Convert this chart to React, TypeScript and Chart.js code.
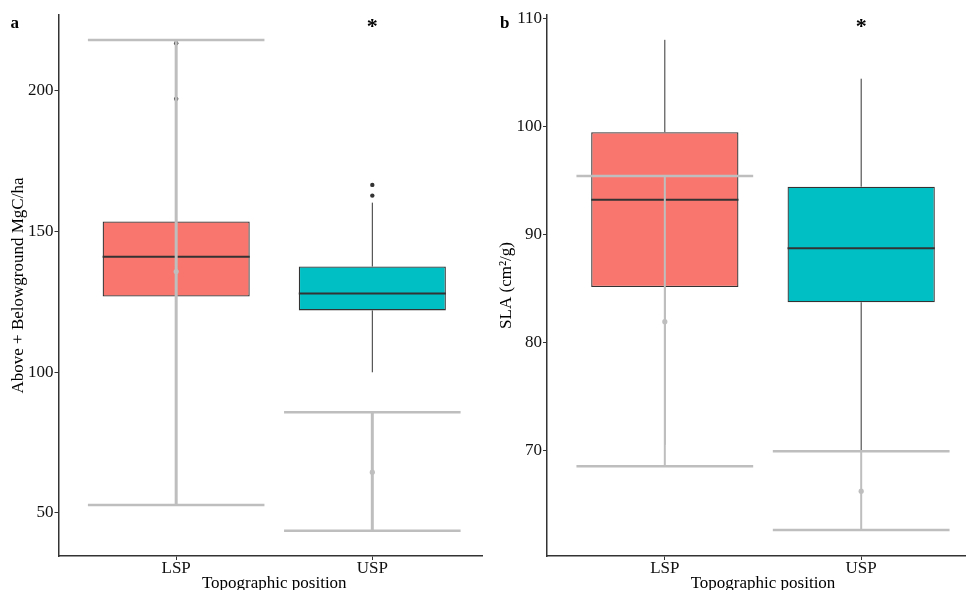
import React, { useEffect, useRef } from "react";
import { Chart, registerables } from "chart.js";

Chart.register(...registerables);

// ---------- data ----------
const categories = ["LSP", "USP"];
const xAxisTitle = "Topographic position";
const significance = ["", "*"];

// Panel a: Above + Belowground carbon
const carbonQ1 = [126.9, 122.0];
const carbonMedian = [141.1, 128.0];
const carbonQ3 = [153.6, 137.6];
const carbonWhiskerLow = [95.0, 100.0];
const carbonWhiskerHigh = [185.0, 160.3];
const carbonOutliers = [[217.0, 197.2], [166.6, 162.8]];
const carbonMean = [135.8, 64.5];
const carbonErrLow = [52.8, 43.7];
const carbonErrHigh = [218.1, 85.8];
const carbonTicks = [50, 100, 150, 200];
const carbonRange = [34.7, 227.0];

// Panel b: SLA
const slaQ1 = [85.1, 83.7];
const slaMedian = [93.2, 88.7];
const slaQ3 = [99.45, 94.4];
const slaWhiskerLow = [70.5, 70.0];
const slaWhiskerHigh = [108.0, 104.4];
const slaOutliers: number[][] = [[], []];
const slaMean = [81.9, 66.2];
const slaErrLow = [68.5, 62.6];
const slaErrHigh = [95.4, 69.9];
const slaTicks = [70, 80, 90, 100, 110];
const slaRange = [60.2, 110.3];

const boxColors = ["#F8766D", "#00BFC4"];
const FONT = "'Liberation Serif', 'Times New Roman', serif";

type Panel = {
  tag: string;
  yTitle: string;
  q1: number[];
  median: number[];
  q3: number[];
  wLow: number[];
  wHigh: number[];
  outliers: number[][];
  mean: number[];
  errLow: number[];
  errHigh: number[];
  ticks: number[];
  range: number[];
  axisWidth: number;
  yTitlePad: number;
  tagX: number;
  errStemWidth: number;
  errCapWidth: number;
};

const panelA: Panel = {
  tag: "a",
  yTitle: "Above + Belowground MgC/ha",
  q1: carbonQ1,
  median: carbonMedian,
  q3: carbonQ3,
  wLow: carbonWhiskerLow,
  wHigh: carbonWhiskerHigh,
  outliers: carbonOutliers,
  mean: carbonMean,
  errLow: carbonErrLow,
  errHigh: carbonErrHigh,
  ticks: carbonTicks,
  range: carbonRange,
  axisWidth: 58.5,
  yTitlePad: 8.6,
  tagX: 10.5,
  errStemWidth: 3,
  errCapWidth: 2.5,
};

const panelB: Panel = {
  tag: "b",
  yTitle: "SLA (cm\u00B2/g)",
  q1: slaQ1,
  median: slaMedian,
  q3: slaQ3,
  wLow: slaWhiskerLow,
  wHigh: slaWhiskerHigh,
  outliers: slaOutliers,
  mean: slaMean,
  errLow: slaErrLow,
  errHigh: slaErrHigh,
  ticks: slaTicks,
  range: slaRange,
  axisWidth: 64,
  yTitlePad: 12.9,
  tagX: 17,
  errStemWidth: 2,
  errCapWidth: 2.5,
};

function makePlugin(p: Panel) {
  return {
    id: "boxExtras" + p.tag,
    afterDatasetsDraw(chart: any) {
      const ctx = chart.ctx;
      const xs = chart.scales.x;
      const ys = chart.scales.y;
      const meta = chart.getDatasetMeta(0);
      const unit = xs.getPixelForValue(2) - xs.getPixelForValue(1);
      ctx.save();
      categories.forEach((_, i) => {
        const bar = meta.data[i];
        const cx = xs.getPixelForValue(i + 1);
        const half = bar.width / 2;
        // whiskers
        ctx.strokeStyle = "#333333";
        ctx.lineWidth = 1;
        ctx.beginPath();
        ctx.moveTo(cx, ys.getPixelForValue(p.q3[i]));
        ctx.lineTo(cx, ys.getPixelForValue(p.wHigh[i]));
        ctx.moveTo(cx, ys.getPixelForValue(p.q1[i]));
        ctx.lineTo(cx, ys.getPixelForValue(p.wLow[i]));
        ctx.stroke();
        // median
        ctx.lineWidth = 2;
        ctx.beginPath();
        ctx.moveTo(cx - half, ys.getPixelForValue(p.median[i]));
        ctx.lineTo(cx + half, ys.getPixelForValue(p.median[i]));
        ctx.stroke();
        // outliers
        ctx.fillStyle = "#333333";
        p.outliers[i].forEach((v) => {
          ctx.beginPath();
          ctx.arc(cx, ys.getPixelForValue(v), 2.2, 0, Math.PI * 2);
          ctx.fill();
        });
      });
      // grey error bars + means
      categories.forEach((_, i) => {
        const cx = xs.getPixelForValue(i + 1);
        const capHalf = unit * 0.45;
        const yl = ys.getPixelForValue(p.errLow[i]);
        const yh = ys.getPixelForValue(p.errHigh[i]);
        ctx.strokeStyle = "#BEBEBE";
        ctx.lineWidth = p.errStemWidth;
        ctx.beginPath();
        ctx.moveTo(cx, yl);
        ctx.lineTo(cx, yh);
        ctx.stroke();
        ctx.lineWidth = p.errCapWidth;
        ctx.beginPath();
        ctx.moveTo(cx - capHalf, yl);
        ctx.lineTo(cx + capHalf, yl);
        ctx.moveTo(cx - capHalf, yh);
        ctx.lineTo(cx + capHalf, yh);
        ctx.stroke();
        ctx.fillStyle = "#BEBEBE";
        ctx.beginPath();
        ctx.arc(cx, ys.getPixelForValue(p.mean[i]), 2.6, 0, Math.PI * 2);
        ctx.fill();
      });
      ctx.restore();
    },
    afterDraw(chart: any) {
      const ctx = chart.ctx;
      const xs = chart.scales.x;
      ctx.save();
      ctx.fillStyle = "#000000";
      ctx.textBaseline = "alphabetic";
      ctx.textAlign = "left";
      ctx.font = `bold 17px ${FONT}`;
      ctx.fillText(p.tag, p.tagX, 28);
      ctx.textAlign = "center";
      ctx.font = `bold 22px ${FONT}`;
      categories.forEach((_, i) => {
        if (significance[i]) {
          ctx.fillText(significance[i], xs.getPixelForValue(i + 1), 33);
        }
      });
      ctx.restore();
    },
  };
}

function makeConfig(p: Panel): any {
  return {
    type: "bar",
    data: {
      datasets: [
        {
          data: categories.map((_, i) => ({ x: i + 1, y: [p.q1[i], p.q3[i]] })),
          backgroundColor: boxColors,
          borderColor: "#333333",
          borderWidth: 1.3,
          borderSkipped: false,
          barPercentage: 0.75,
          categoryPercentage: 1,
        },
      ],
    },
    options: {
      animation: false,
      responsive: false,
      devicePixelRatio: 1,
      layout: { padding: { top: 15, left: 0, right: 0, bottom: 0 } },
      plugins: { legend: { display: false }, tooltip: { enabled: false } },
      scales: {
        x: {
          type: "linear",
          offset: false,
          min: 0.4,
          max: 2.6,
          afterBuildTicks: (s: any) => {
            s.ticks = categories.map((_, i) => ({ value: i + 1 }));
          },
          afterFit: (s: any) => {
            s.height = 34;
          },
          ticks: {
            callback: (v: any) => categories[Math.round(v) - 1],
            font: { family: FONT, size: 17 },
            color: "#111111",
            padding: -2,
            maxRotation: 0,
            autoSkip: false,
          },
          grid: {
            display: true,
            drawOnChartArea: false,
            drawTicks: true,
            tickLength: 4,
            color: "#333333",
            offset: false,
          },
          border: { display: true, color: "#333333", width: 1.5 },
          title: {
            display: true,
            text: xAxisTitle,
            font: { family: FONT, size: 17 },
            color: "#000000",
            padding: { top: 0, bottom: -3.5 },
          },
        },
        y: {
          type: "linear",
          min: p.range[0],
          max: p.range[1],
          afterBuildTicks: (s: any) => {
            s.ticks = p.ticks.map((v) => ({ value: v }));
          },
          afterFit: (s: any) => {
            s.width = p.axisWidth;
          },
          ticks: {
            callback: (v: any) => String(v),
            font: { family: FONT, size: 17 },
            color: "#111111",
            padding: 1,
          },
          grid: {
            display: true,
            drawOnChartArea: false,
            drawTicks: true,
            tickLength: 4,
            color: "#333333",
          },
          border: { display: true, color: "#333333", width: 1.5 },
          title: {
            display: true,
            text: p.yTitle,
            font: { family: FONT, size: 17 },
            color: "#000000",
            padding: { top: p.yTitlePad, bottom: 0 },
          },
        },
      },
    },
    plugins: [makePlugin(p)],
  };
}

export default function App() {
  const refA = useRef<HTMLCanvasElement | null>(null);
  const refB = useRef<HTMLCanvasElement | null>(null);

  useEffect(() => {
    const ca = new Chart(refA.current as HTMLCanvasElement, makeConfig(panelA));
    const cb = new Chart(refB.current as HTMLCanvasElement, makeConfig(panelB));
    return () => {
      ca.destroy();
      cb.destroy();
    };
  }, []);

  return (
    <div
      style={{
        position: "absolute",
        left: 0,
        top: 0,
        width: 966,
        height: 590,
        background: "#ffffff",
        overflow: "hidden",
      }}
    >
      <div style={{ position: "absolute", left: 0, top: 0, width: 483, height: 590, overflow: "hidden" }}>
        <canvas ref={refA} width={490} height={590} style={{ display: "block", width: 490, height: 590 }} />
      </div>
      <div style={{ position: "absolute", left: 483, top: 0, width: 483, height: 590, overflow: "hidden" }}>
        <canvas ref={refB} width={496} height={590} style={{ display: "block", width: 496, height: 590 }} />
      </div>
    </div>
  );
}
